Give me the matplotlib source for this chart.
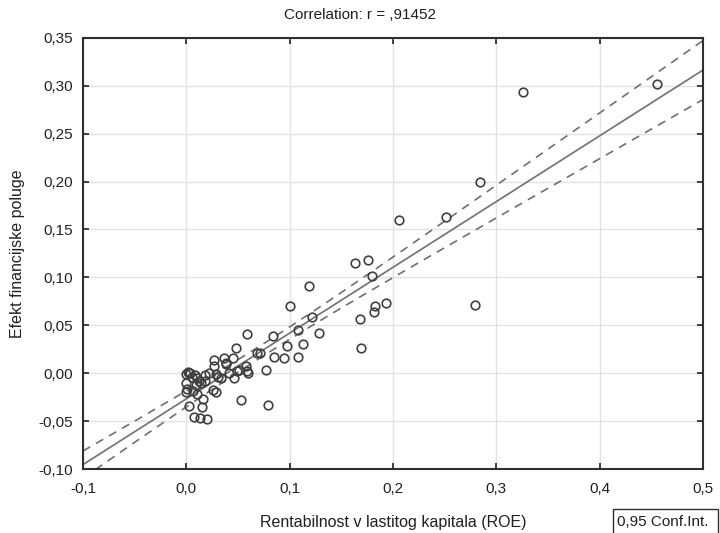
import numpy as np
import matplotlib.pyplot as plt
from matplotlib.patches import Rectangle
from matplotlib.ticker import FuncFormatter

plt.rcParams['font.family'] = ['Liberation Sans', 'DejaVu Sans']

# ROE values (x) and financial leverage effect (y)
roe = [0.456, 0.326, 0.284, 0.251, 0.279, 0.206, 0.163, 0.176, 0.180, 0.119,
       0.100, 0.122, 0.193, 0.183, 0.182, 0.168, 0.108, 0.128, 0.097, 0.113,
       0.095, 0.108, 0.169, 0.059, 0.084, 0.048, 0.068, 0.071, 0.085, 0.027,
       0.036, 0.045, 0.027, 0.038, 0.058, 0.059, 0.049, 0.046, 0.077, 0.060,
       0.029, 0.031, 0.034, 0.041, 0.018, 0.018, 0.000, 0.002, 0.004, 0.008,
       0.010, 0.012, 0.005, 0.000, 0.001, 0.000, 0.006, 0.010, 0.016, 0.026,
       0.029, 0.003, 0.015, 0.053, 0.079, 0.007, 0.013, 0.020, 0.038, 0.051,
       0.022, 0.014, 0.003, 0.009]
efekt = [0.302, 0.293, 0.200, 0.163, 0.071, 0.160, 0.115, 0.118, 0.101, 0.091,
         0.070, 0.059, 0.073, 0.070, 0.064, 0.057, 0.045, 0.042, 0.028, 0.030,
         0.016, 0.017, 0.026, 0.041, 0.039, 0.026, 0.021, 0.021, 0.017, 0.014,
         0.016, 0.016, 0.008, 0.010, 0.008, 0.002, 0.002, -0.005, 0.003, 0.000,
         -0.001, -0.004, -0.005, 0.000, -0.002, -0.008, -0.001, 0.001, 0.000, -0.002,
         -0.005, -0.008, -0.004, -0.010, -0.016, -0.020, -0.019, -0.022, -0.027, -0.017,
         -0.020, -0.034, -0.035, -0.028, -0.033, -0.046, -0.047, -0.048, 0.011, 0.003,
         0.000, -0.010, 0.000, -0.012]

x = np.array(roe)
y = np.array(efekt)
n = len(x)
b, a = np.polyfit(x, y, 1)
resid = y - (a + b * x)
s = np.sqrt(np.sum(resid ** 2) / (n - 2))
sxx = np.sum((x - x.mean()) ** 2)
t = 1.99
xs = np.linspace(-0.1, 0.5, 200)
fit = a + b * xs
half = t * s * np.sqrt(1 / n + (xs - x.mean()) ** 2 / sxx)

fig = plt.figure(figsize=(7.2, 5.33), dpi=100)
ax = fig.add_axes([0.1153, 0.120, 0.861, 0.809])

ax.grid(True, color='#e2e2e2', linewidth=1.0)
ax.set_axisbelow(True)
ax.plot(xs, fit, '-', color='#707070', linewidth=1.2)
ax.plot(xs, fit + half, '--', color='#707070', linewidth=1.2, dashes=(5, 4))
ax.plot(xs, fit - half, '--', color='#707070', linewidth=1.2, dashes=(5, 4))
ax.plot(x, y, 'o', markerfacecolor='none', markeredgecolor='#404040',
        markersize=6.2, markeredgewidth=1.2)

ax.set_xlim(-0.1, 0.5)
ax.set_ylim(-0.10, 0.35)
ax.set_xticks(np.arange(-0.1, 0.51, 0.1))
ax.set_yticks(np.arange(-0.10, 0.351, 0.05))
ax.xaxis.set_major_formatter(FuncFormatter(lambda v, p: f'{v:.1f}'.replace('.', ',')))
ax.yaxis.set_major_formatter(FuncFormatter(lambda v, p: f'{v:.2f}'.replace('.', ',')))
ax.tick_params(direction='in', top=True, right=True, length=4, width=1.2,
               labelsize=11, colors='#202020')
ax.tick_params(axis='x', pad=9)
ax.tick_params(axis='y', pad=7)
for sp in ax.spines.values():
    sp.set_linewidth(1.5)
    sp.set_color('#303030')

fig.text(0.5, 1 - 15 / 533, 'Correlation: r = ,91452', fontsize=11,
         ha='center', va='center', color='#202020')
ax.set_xlabel('Rentabilnost v lastitog kapitala (ROE)', fontsize=11.5,
              labelpad=14, color='#202020')
ax.set_ylabel('Efekt financijske poluge', fontsize=11.5, labelpad=10,
              color='#202020')

fig.add_artist(Rectangle((613 / 720, -0.02), (718 - 613) / 720,
                         0.02 + (533 - 509) / 533,
                         transform=fig.transFigure, facecolor='white',
                         edgecolor='#303030', linewidth=1.0, clip_on=False))
fig.text(617 / 720, 1 - 522 / 533, '0,95 Conf.Int.', fontsize=11,
         ha='left', va='center', color='#202020')

plt.savefig('out.png', dpi=100)
